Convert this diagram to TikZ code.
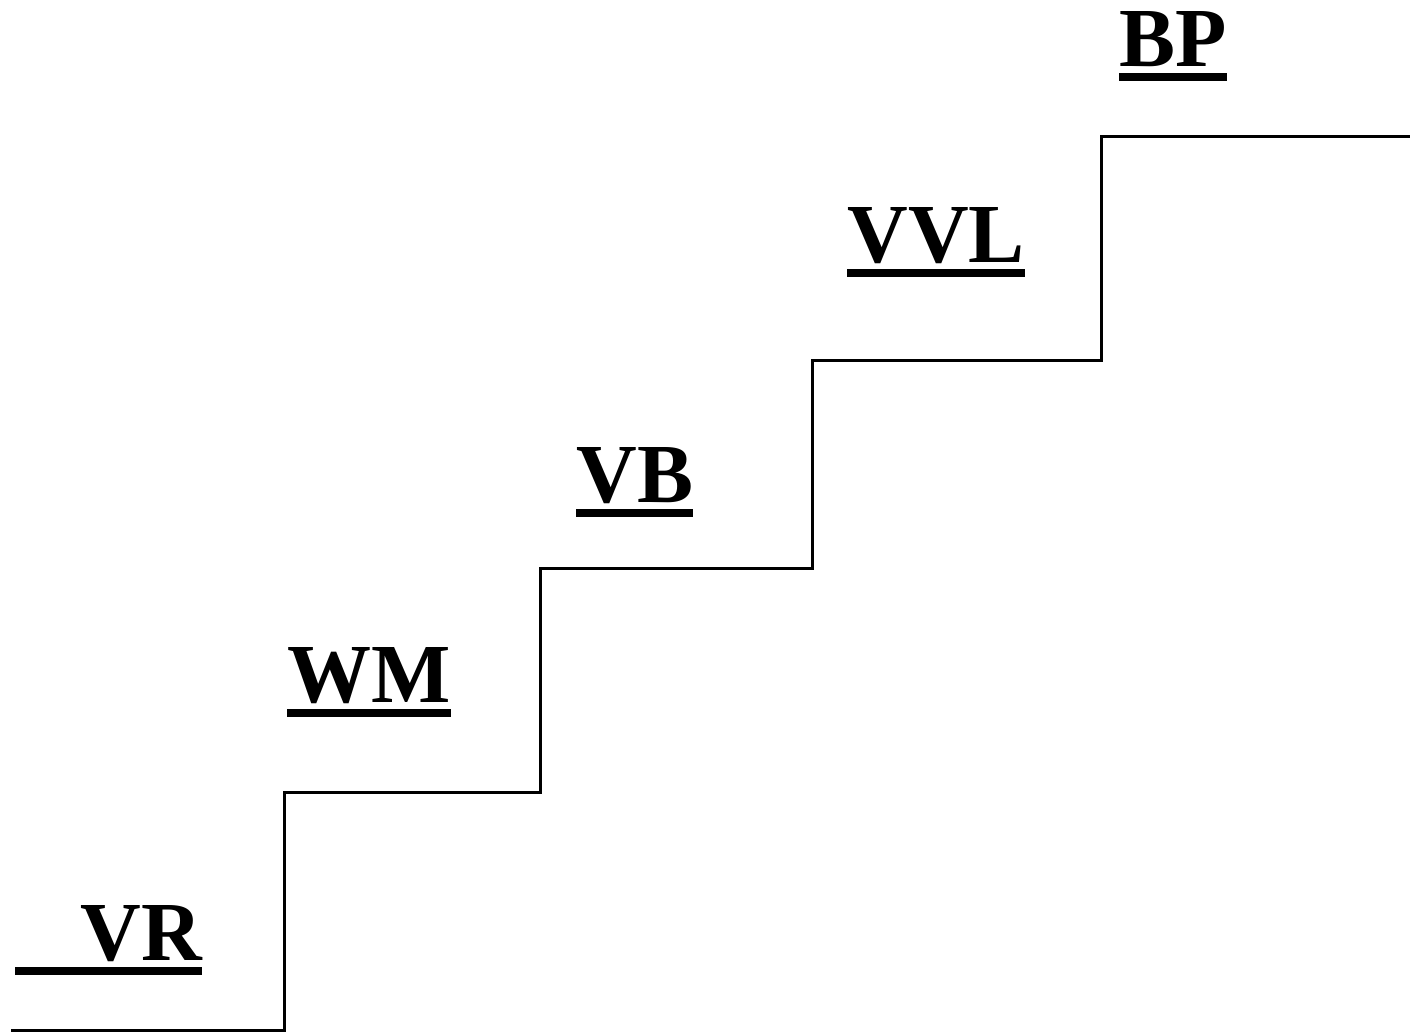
\documentclass[tikz,border=0pt]{standalone}
\usepackage{fontspec}
\setmainfont{Liberation Serif}
\newcommand\ulword[1]{\setbox0\hbox{#1}\rlap{\rule[-7.5pt]{\wd0}{4pt}}\box0}
\tikzset{
  lbl/.style={anchor=base west, inner sep=0pt, font=\fontsize{42}{48}\selectfont\bfseries},
  stair/.style={line width=1.5pt, line join=miter}
}
\begin{document}
\begin{tikzpicture}[x=0.5pt, y=-0.5pt]
    \useasboundingbox (0, 0) rectangle (1410, 1033);
    \draw[stair] (11, 1030) -- (284, 1030) -- (284, 792) -- (540, 792)
        -- (540, 568) -- (812, 568) -- (812, 360) -- (1101, 360)
        -- (1101, 136) -- (1410, 136);
    \node[lbl] (vr) at (15, 960) {\ulword{\hspace{32.5pt}VR}};
    \node[lbl] (wm) at (287, 702) {\ulword{WM}};
    \node[lbl] (vb) at (576, 502) {\ulword{VB}};
    \node[lbl] (vvl) at (847, 262) {\ulword{VVL}};
    \node[lbl] (bp) at (1119, 66) {\ulword{BP}};
\end{tikzpicture}
\end{document}
